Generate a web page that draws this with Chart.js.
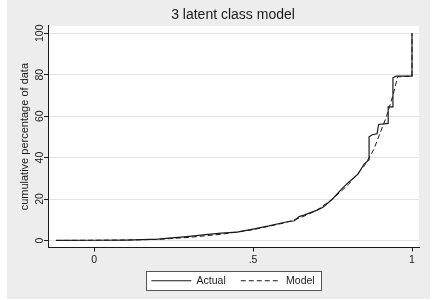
<!DOCTYPE html>
<html>
<head>
<meta charset="utf-8">
<script src="https://cdn.jsdelivr.net/npm/chart.js@4/dist/chart.umd.min.js"></script>
<style>
  html, body { margin: 0; padding: 0; background: #fff; }
  #wrap { width: 433px; height: 300px; }
</style>
</head>
<body>
<div id="wrap"><canvas id="cdf"></canvas></div>
<script>
const actualX = [-0.12, 0.0, 0.1, 0.2, 0.3, 0.35, 0.4, 0.45, 0.5, 0.55, 0.6, 0.63, 0.645, 0.66, 0.7, 0.72, 0.75, 0.78, 0.8, 0.83, 0.85, 0.865, 0.865, 0.875, 0.89, 0.895, 0.925, 0.925, 0.94, 0.94, 0.95, 1.0, 1.0];
const actualY = [0, 0.1, 0.2, 0.6, 2.0, 2.8, 3.5, 4.0, 5.5, 7.0, 8.8, 9.5, 11.5, 12.2, 14.5, 16.0, 20.0, 25.0, 28.0, 32.0, 37.0, 39.0, 50.0, 51.0, 51.5, 56.0, 56.5, 64.5, 64.5, 78.5, 79.3, 79.3, 100];
const modelX = [-0.12, 0.1, 0.2, 0.3, 0.4, 0.5, 0.6, 0.65, 0.7, 0.75, 0.8, 0.85, 0.88, 0.9, 0.92, 0.94, 0.955, 1.0, 1.0];
const modelY = [0, 0.2, 0.5, 1.5, 3.0, 5.2, 8.5, 11.0, 14.5, 20.0, 27.0, 36.0, 44.0, 52.0, 60.0, 70.0, 79.0, 79.3, 100];

const xTickValues = [0, 0.5, 1];
const xTickLabels = ['0', '.5', '1'];
const yTickValues = [0, 20, 40, 60, 80, 100];
const yTickLabels = ['0', '20', '40', '60', '80', '100'];

const seriesNames = ['Actual', 'Model'];

const FONT = '"Liberation Sans", Arial, sans-serif';
const INK = '#1a1a1a';

function toPoints(xs, ys) {
    return xs.map((x, i) => ({ x: x, y: ys[i] }));
}

// gray page, white plot region, boxed legend
const backdrop = {
    id: 'backdrop',
    beforeDraw(chart) {
        const c = chart.ctx;
        const a = chart.chartArea;
        c.save();
        c.fillStyle = '#ffffff';
        c.fillRect(0, 0, chart.width, chart.height);
        c.fillStyle = '#ededed';
        c.fillRect(7, 0, 423, 299);
        c.fillStyle = '#ffffff';
        c.fillRect(a.left, a.top, a.right - a.left, a.bottom - a.top);

        const hb = chart.legend.legendHitBoxes;
        if (hb && hb.length) {
            const first = hb[0], last = hb[hb.length - 1];
            const x0 = Math.round(first.left - 5) + 0.5;
            const x1 = Math.round(last.left + last.width + 6) + 0.5;
            const y0 = Math.round(first.top - 5) + 0.5;
            const y1 = Math.round(first.top + first.height + 4) + 0.5;
            c.fillStyle = '#ffffff';
            c.fillRect(x0, y0, x1 - x0, y1 - y0);
            c.strokeStyle = '#555555';
            c.lineWidth = 1;
            c.strokeRect(x0, y0, x1 - x0, y1 - y0);
        }
        c.restore();
    }
};

// tick labels (y ones vertical, Stata style) and y axis title
const axisText = {
    id: 'axisText',
    afterDraw(chart) {
        const c = chart.ctx;
        const xs = chart.scales.x;
        const ys = chart.scales.y;
        const a = chart.chartArea;
        c.save();
        c.fillStyle = INK;
        c.textAlign = 'center';
        c.textBaseline = 'middle';
        c.font = '10.5px ' + FONT;
        xTickValues.forEach((v, i) => {
            c.fillText(xTickLabels[i], xs.getPixelForValue(v), a.bottom + 12.5);
        });
        yTickValues.forEach((v, i) => {
            const py = ys.getPixelForValue(v);
            c.save();
            c.translate(40, py);
            c.rotate(-Math.PI / 2);
            c.fillText(yTickLabels[i], 0, 0);
            c.restore();
        });
        c.font = '11px ' + FONT;
        c.translate(25, (a.top + a.bottom) / 2);
        c.rotate(-Math.PI / 2);
        c.fillText('cumulative percentage of data', 0, 0);
        c.restore();
    }
};

new Chart(document.getElementById('cdf'), {
    type: 'scatter',
    data: {
        datasets: [
            {
                label: seriesNames[0],
                data: toPoints(actualX, actualY),
                showLine: true,
                borderColor: INK,
                backgroundColor: INK,
                borderWidth: 1.2,
                pointRadius: 0,
                tension: 0
            },
            {
                label: seriesNames[1],
                data: toPoints(modelX, modelY),
                showLine: true,
                borderColor: INK,
                backgroundColor: INK,
                borderWidth: 1,
                borderDash: [5, 3],
                pointRadius: 0,
                tension: 0
            }
        ]
    },
    options: {
        responsive: true,
        maintainAspectRatio: false,
        animation: false,
        layout: { padding: { left: 47, right: 14, top: 7, bottom: 4 } },
        scales: {
            x: {
                type: 'linear',
                min: -0.145,
                max: 1.022,
                afterBuildTicks: (s) => { s.ticks = xTickValues.map(v => ({ value: v })); },
                afterFit: (s) => { s.height = 13; },
                ticks: { display: false },
                grid: { drawOnChartArea: false, tickLength: 4, tickColor: INK },
                border: { color: INK, width: 1 }
            },
            y: {
                type: 'linear',
                min: -3.4,
                max: 103.6,
                afterBuildTicks: (s) => { s.ticks = yTickValues.map(v => ({ value: v })); },
                afterFit: (s) => { s.width = 1; },
                ticks: { display: false },
                grid: { color: '#e4e4e4', tickLength: 4, tickColor: INK },
                border: { color: INK, width: 1 }
            }
        },
        plugins: {
            title: {
                display: true,
                text: '3 latent class model',
                color: INK,
                font: { family: FONT, size: 14, weight: 'normal' },
                padding: { top: 0, bottom: 2 }
            },
            legend: {
                position: 'bottom',
                labels: {
                    usePointStyle: true,
                    pointStyle: 'line',
                    pointStyleWidth: 40,
                    padding: 15,
                    color: INK,
                    font: { family: FONT, size: 10.5 },
                    generateLabels: (chart) =>
                        Chart.defaults.plugins.legend.labels.generateLabels(chart).map((it, i) =>
                            Object.assign(it, { lineDash: chart.data.datasets[i].borderDash || [], lineWidth: 1 }))
                }
            },
            tooltip: { enabled: false }
        }
    },
    plugins: [backdrop, axisText]
});
</script>
</body>
</html>
